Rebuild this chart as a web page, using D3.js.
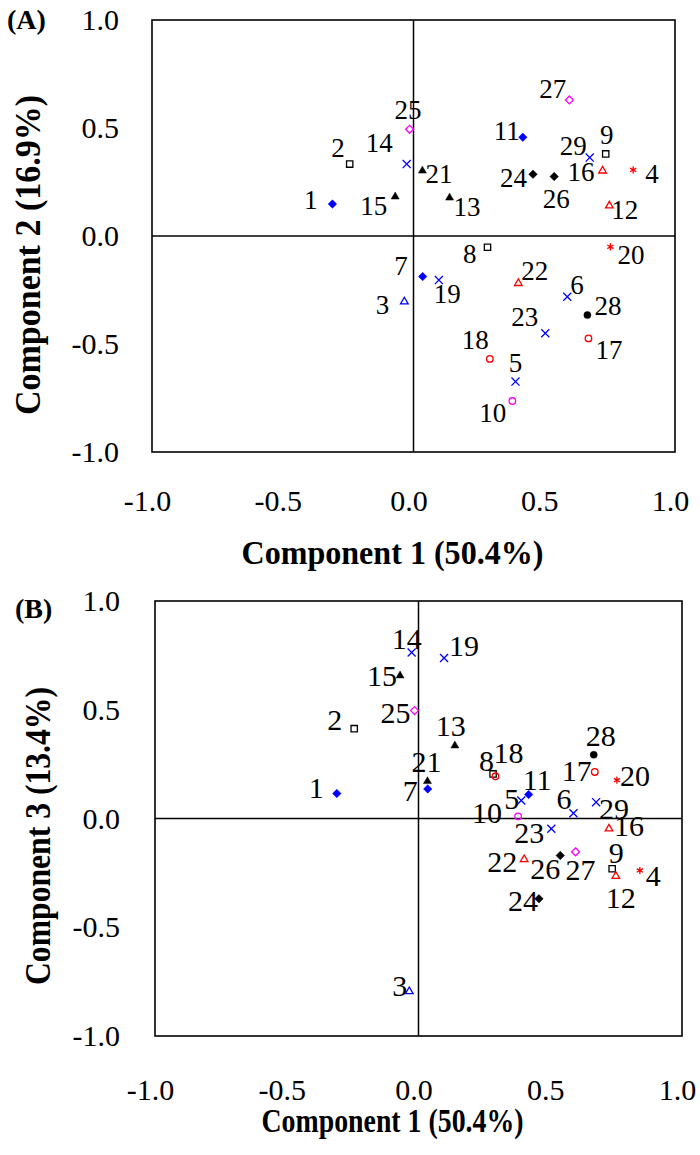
<!DOCTYPE html>
<html>
<head>
<meta charset="utf-8">
<script src="https://cdnjs.cloudflare.com/ajax/libs/d3/7.8.5/d3.min.js"></script>
<style>
  html, body { margin: 0; padding: 0; background: #fff; }
  svg { display: block; }
  text { font-family: "Liberation Serif", "Times New Roman", serif; fill: #000; }
</style>
</head>
<body>
<div id="chart"></div>
<script>
// Sample ids 1..29
const samples = d3.range(1, 30);

// Component scores
const comp1 = [-0.31, -0.244, -0.035, 0.84, 0.39, 0.588, 0.035, 0.283, 0.735, 0.378,
  0.418, 0.749, 0.138, -0.026, -0.07, 0.723, 0.669, 0.292, 0.097, 0.753,
  0.034, 0.401, 0.504, 0.457, -0.015, 0.538, 0.596, 0.665, 0.674];
const comp2 = [0.148, 0.333, -0.304, 0.306, -0.674, -0.281, -0.188, -0.052, 0.38, -0.764,
  0.457, 0.14, 0.177, 0.333, 0.182, 0.302, -0.474, -0.569, -0.204, -0.05,
  0.302, -0.219, -0.45, 0.286, 0.494, 0.275, 0.63, -0.366, 0.363];
const comp3 = [0.115, 0.413, -0.795, -0.239, 0.083, 0.024, 0.136, 0.205, -0.231, 0.01,
  0.11, -0.265, 0.335, 0.763, 0.657, -0.047, 0.214, 0.194, 0.738, 0.176,
  0.171, -0.188, -0.047, -0.369, 0.496, -0.17, -0.153, 0.293, 0.075];

// Marker group of each sample
const markerType = ['bdiamond', 'ksquare', 'btriangle', 'rstar', 'bx', 'bx', 'bdiamond', 'ksquare', 'ksquare', 'mcircle',
  'bdiamond', 'rtriangle', 'ktriangle', 'bx', 'ktriangle', 'rtriangle', 'rcircle', 'rcircle', 'bx', 'rstar',
  'ktriangle', 'rtriangle', 'bx', 'kdiamond', 'mdiamond', 'kdiamond', 'mdiamond', 'kcircle', 'bx'];

const ticks = [-1.0, -0.5, 0.0, 0.5, 1.0];

// label placement next to each marker: [anchor, dx, dy]
const labelOffsetA = [
  ['end', -15, 5], ['end', -5, -7], ['end', -15, 12], ['start', 12, 13], ['middle', 0, -10],
  ['start', 3, -3], ['end', -15, -2], ['end', -11, 16], ['middle', 1, -10], ['end', -6, 21],
  ['end', -3, 3], ['start', 2, 13], ['start', 4, 18], ['end', -14, -12], ['end', -8, 18],
  ['end', -8, 10], ['start', 7, 21], ['end', -1, -10], ['start', -5, 23], ['start', 7, 17],
  ['start', 3, 12], ['start', 3, -3], ['end', -7, -7], ['end', -6, 13], ['middle', -1.5, -10],
  ['middle', 2, 31], ['end', -3, -2], ['start', 7, 0], ['end', -3, -3]];
const labelOffsetB = [
  ['end', -13, 5], ['end', -12, 1], ['end', -2, 5], ['start', 6, 16], ['end', -2, 9],
  ['end', -2, -4], ['end', -10, 12], ['end', 1, -3], ['middle', 4, -6], ['end', -16, 7],
  ['start', -6, -5], ['middle', 5, 32], ['middle', -4, -10], ['middle', -5, -4], ['end', -3, 10],
  ['start', 5, 7], ['end', -3, 9], ['start', -2, -13], ['start', 5, -2], ['start', 3, 6],
  ['middle', -1, -9], ['end', -7, 13], ['end', -7, 14], ['end', -1, 12], ['end', -4, 12],
  ['end', 0, 24], ['start', -10, 28], ['middle', 7, -9], ['start', 3, 17]];

const W = 700, H = 1155;
const svg = d3.select('#chart').append('svg')
  .attr('width', W)
  .attr('height', H);

const colors = { b: '#0000ff', r: '#ff0000', m: '#ff00ff', k: '#000000' };

function symbolFor(t) {
  const shape = t.slice(1);
  const sym = d3.symbol();
  if (shape === 'diamond') return sym.type(d3.symbolDiamond2 || d3.symbolDiamond).size(t[0] === 'm' ? 40 : 46)();
  if (shape === 'square') return sym.type(d3.symbolSquare).size(40)();
  if (shape === 'triangle') return sym.type(d3.symbolTriangle2 || d3.symbolTriangle).size(t[0] === 'k' ? 46 : 42)();
  if (shape === 'x') return sym.type(d3.symbolTimes || d3.symbolCross).size(44)();
  if (shape === 'star') return sym.type(d3.symbolAsterisk || d3.symbolCross).size(36)();
  return sym.type(d3.symbolCircle).size(t[0] === 'k' ? 40 : 34)();
}

function isFilled(t) {
  return t === 'bdiamond' || t === 'kdiamond' || t === 'ktriangle' || t === 'kcircle';
}

function drawPanel(opt) {
  const x = d3.scaleLinear().domain([-1, 1]).range(opt.xr);
  const y = d3.scaleLinear().domain([-1, 1]).range(opt.yr);
  const g = svg.append('g');

  // frame and zero lines
  g.append('rect')
    .attr('x', opt.xr[0]).attr('y', opt.yr[1])
    .attr('width', opt.xr[1] - opt.xr[0])
    .attr('height', opt.yr[0] - opt.yr[1])
    .attr('fill', 'none').attr('stroke', '#000').attr('stroke-width', 1.6);
  g.append('line')
    .attr('x1', x(0)).attr('x2', x(0)).attr('y1', opt.yr[1]).attr('y2', opt.yr[0])
    .attr('stroke', '#000').attr('stroke-width', 1.5);
  g.append('line')
    .attr('x1', opt.xr[0]).attr('x2', opt.xr[1]).attr('y1', y(0)).attr('y2', y(0))
    .attr('stroke', '#000').attr('stroke-width', 1.5);

  // axes: labels only
  const xAxis = g.append('g')
    .attr('transform', `translate(0,${opt.yr[0]})`)
    .call(d3.axisBottom(x).tickValues(ticks).tickSize(0).tickFormat(d => d.toFixed(1)));
  xAxis.select('.domain').remove();
  xAxis.selectAll('text')
    .attr('y', opt.xTickY).attr('dy', null).attr('dx', -5)
    .attr('font-size', 30).attr('fill', '#000')
    .style('font-family', '"Liberation Serif", serif');

  const yAxis = g.append('g')
    .attr('transform', `translate(${opt.xr[0]},0)`)
    .call(d3.axisLeft(y).tickValues(ticks).tickSize(0).tickPadding(opt.yTickPad).tickFormat(d => d.toFixed(1)));
  yAxis.select('.domain').remove();
  yAxis.selectAll('text')
    .attr('dy', '0.32em')
    .attr('font-size', 30).attr('fill', '#000')
    .style('font-family', '"Liberation Serif", serif');

  // titles
  g.append('text')
    .attr('x', opt.xTitle[0]).attr('y', opt.xTitle[1])
    .attr('text-anchor', 'middle')
    .attr('font-size', 33).attr('font-weight', 'bold')
    .attr('textLength', opt.xTitle[2]).attr('lengthAdjust', 'spacingAndGlyphs')
    .text('Component 1 (50.4%)');
  g.append('text')
    .attr('transform', `translate(${opt.yTitle[0]},${opt.yTitle[1]}) rotate(-90)`)
    .attr('text-anchor', 'middle')
    .attr('font-size', 35).attr('font-weight', 'bold')
    .attr('textLength', opt.yTitle[2]).attr('lengthAdjust', 'spacingAndGlyphs')
    .text(opt.yLabel);
  g.append('text')
    .attr('x', opt.tag[0]).attr('y', opt.tag[1])
    .attr('font-size', 28).attr('font-weight', 'bold')
    .text(opt.tagText);

  const data = samples.map((id, i) => ({
    id, x: comp1[i], y: opt.ys[i], type: markerType[i], off: opt.offsets[i]
  }));

  // point labels
  g.append('g').selectAll('text')
    .data(data)
    .join('text')
    .attr('x', d => x(d.x) + d.off[1])
    .attr('y', d => y(d.y) + d.off[2])
    .attr('text-anchor', d => d.off[0])
    .attr('font-size', opt.labelSize)
    .text(d => d.id);

  // markers
  g.append('g').selectAll('path')
    .data(data)
    .join('path')
    .attr('transform', d => `translate(${x(d.x)},${y(d.y)})`)
    .attr('d', d => symbolFor(d.type))
    .attr('fill', d => isFilled(d.type) ? colors[d.type[0]] : 'none')
    .attr('stroke', d => colors[d.type[0]])
    .attr('stroke-width', d => isFilled(d.type) ? 0.5 : 1.3);
}

drawPanel({
  xr: [152, 675], yr: [452, 20],
  ys: comp2, offsets: labelOffsetA, labelSize: 27,
  xTickY: 59, yTickPad: 33,
  xTitle: [392.5, 563.5, 302], yTitle: [40, 255, 320],
  yLabel: 'Component 2 (16.9%)',
  tag: [7, 29], tagText: '(A)'
});

drawPanel({
  xr: [155, 682], yr: [1036, 601],
  ys: comp3, offsets: labelOffsetB, labelSize: 30,
  xTickY: 64, yTickPad: 35,
  xTitle: [392.5, 1131.5, 262], yTitle: [50, 836, 298],
  yLabel: 'Component 3 (13.4%)',
  tag: [15, 618], tagText: '(B)'
});
</script>
</body>
</html>
